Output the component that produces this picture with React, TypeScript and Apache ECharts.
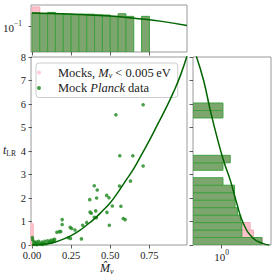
import React, { useEffect, useRef } from 'react';
import * as echarts from 'echarts';

// ---------- data ----------
const planckPoints: [number, number][] = [
  [0.003, 0.32], [0.005, 0.22], [0.012, 0.14], [0.02, 0.08], [0.028, 0.12], [0.035, 0.05],
  [0.043, 0.16], [0.05, 0.06], [0.058, 0.03], [0.064, 0.12], [0.072, 0.07], [0.082, 0.16],
  [0.09, 0.05], [0.1, 0.18], [0.108, 0.1], [0.115, 0.14], [0.12, 0.2], [0.128, 0.12],
  [0.135, 0.22], [0.14, 0.16], [0.145, 0.24], [0.01, 0.02], [0.03, 0.01], [0.07, 0.02],
  [0.159, 0.54], [0.174, 0.57], [0.184, 0.57], [0.193, 1.08], [0.193, 0.87], [0.233, 0.31],
  [0.246, 0.28], [0.244, 0.75], [0.254, 0.7], [0.275, 0.64], [0.316, 0.26], [0.324, 0.84],
  [0.35, 0.96], [0.369, 1.93], [0.371, 1.4], [0.379, 1.35], [0.398, 2.52], [0.398, 1.18],
  [0.407, 1.45], [0.411, 1.16], [0.413, 2.0], [0.417, 2.34], [0.477, 2.11], [0.479, 1.39],
  [0.492, 2.01], [0.494, 0.84], [0.513, 1.66], [0.559, 2.51], [0.568, 1.65], [0.583, 1.13],
  [0.595, 1.08], [0.629, 2.72], [0.536, 5.54], [0.561, 3.8], [0.644, 3.8], [0.71, 5.97],
  [0.71, 3.36],
];
const mockPoints: [number, number][] = [
  [0.0, 0.01], [0.002, 0.04], [0.001, 0.07], [0.003, 0.1], [0.0, 0.13], [0.002, 0.16],
  [0.001, 0.19], [0.003, 0.22], [0.0, 0.25], [0.002, 0.28], [0.001, 0.31], [0.003, 0.34],
  [0.0, 0.37], [0.002, 0.4], [0.001, 0.43], [0.003, 0.46], [0.0, 0.49], [0.002, 0.52],
  [0.001, 0.55], [0.003, 0.58], [0.0, 0.61], [0.002, 0.64], [0.001, 0.67], [0.003, 0.7],
  [0.0, 0.73], [0.002, 0.76], [0.001, 0.79], [0.003, 0.82], [0.0, 0.85], [0.002, 0.88],
];
const fitCurve: [number, number][] = [
  [0.0, 0.0], [0.05, 0.01], [0.1, 0.05], [0.15, 0.13], [0.2, 0.25], [0.25, 0.4], [0.3, 0.6],
  [0.35, 0.85], [0.4, 1.12], [0.45, 1.45], [0.5, 1.8], [0.55, 2.25], [0.6, 2.75], [0.65, 3.25],
  [0.7, 3.85], [0.75, 4.45], [0.8, 5.1], [0.85, 5.75], [0.9, 6.45], [0.95, 7.25], [0.99, 8.05],
];
const mainXTicks = [0, 0.25, 0.5, 0.75];

// top histogram (M_nu), log scale
const topBinEdges = [0, 0.05, 0.1, 0.15, 0.2, 0.25, 0.3, 0.35, 0.4, 0.45, 0.5, 0.55, 0.6, 0.65, 0.7, 0.75];
const topGreen = [0.189, 0.183, 0.195, 0.183, 0.175, 0.173, 0.179, 0.179, 0.174, 0.172, 0.161, 0.183, 0.161, 0, 0.161];
const topPink = [0.254, 0, 0, 0, 0, 0, 0, 0, 0, 0, 0, 0, 0, 0, 0];
const topCurve: [number, number][] = [
  [0.0, 0.189], [0.25, 0.18], [0.5, 0.164], [0.68, 0.144], [0.83, 0.126], [0.99, 0.103],
];

// right histogram (t_LR), log scale
const rightBinEdges = [0, 0.318, 0.636, 0.954, 1.272, 1.59, 1.908, 2.226, 2.544, 2.862, 3.18,
  3.498, 3.816, 4.134, 4.452, 4.77, 5.088, 5.406, 5.724, 6.042];
const rightGreen = [4.68, 2.17, 2.17, 2.09, 1.83, 1.68, 1.64, 1.64, 1.05, 0, 1.05, 1.39, 0, 0, 0, 0, 0, 1.05, 1.05];
const rightPink = [4.79, 3.39, 2.99, 0, 0, 0, 0, 0, 0, 0, 0, 0, 0, 0, 0, 0, 0, 0, 0];
const rightCurve: [number, number][] = [
  [0.376, 8.03], [0.497, 7.01], [0.643, 5.74], [0.832, 4.6], [1.07, 3.61], [1.39, 2.76],
  [1.79, 1.77], [2.31, 0.91], [3.39, 0.28], [4.97, 0.06], [6.3, 0.0],
];

const TOP_MIN = 0.0283;
const TOP_MAX = 0.28;
const RIGHT_MIN = 0.331;
const RIGHT_MAX = 6.68;

const FONT = 'Liberation Serif';
const DOT = '#1c871c';
const LINE = '#006400';
const BAR_FILL = '#7da66e';
const BAR_EDGE = '#40a040';
const PINK = '#ffc0cb';
const PINK_EDGE = '#f3a9b6';
const FRAME = '#9a9a9a';
const TICK = '#333';

function histItems(edges: number[], vals: number[]) {
  const out: number[][] = [];
  vals.forEach((v, i) => {
    if (v > 0) out.push([edges[i], edges[i + 1], v]);
  });
  return out;
}

const supRich = {
  b: { fontSize: 11, fontFamily: FONT, color: '#222', lineHeight: 14, verticalAlign: 'bottom' },
  s: { fontSize: 7.5, fontFamily: FONT, color: '#222', lineHeight: 14, verticalAlign: 'top' },
};

export default function App() {
  const ref = useRef<HTMLDivElement>(null);
  useEffect(() => {
    if (!ref.current) return;
    const chart = echarts.init(ref.current, null, { renderer: 'svg' });
    const tickStyle = { length: 3.5, lineStyle: { color: TICK, width: 0.8 } };
    const option: any = {
      animation: false,
      textStyle: { fontFamily: FONT },
      grid: [
        { left: 31, top: 57, width: 156, height: 188, show: true, borderColor: FRAME, borderWidth: 1 },
        { left: 31, top: 5, width: 156, height: 47, show: true, borderColor: FRAME, borderWidth: 1 },
        { left: 193, top: 57, width: 78, height: 188, show: true, borderColor: FRAME, borderWidth: 1 },
      ],
      xAxis: [
        {
          gridIndex: 0, type: 'value', min: -0.006, max: 0.99,
          axisLine: { show: false }, splitLine: { show: false },
          axisTick: { ...tickStyle, customValues: mainXTicks },
          axisLabel: {
            customValues: mainXTicks, margin: 5, fontSize: 10.5, color: '#222', fontFamily: FONT,
            formatter: (v: number) => v.toFixed(2),
          },
        },
        {
          gridIndex: 1, type: 'value', min: -0.006, max: 0.99,
          axisLine: { show: false }, splitLine: { show: false },
          axisTick: { ...tickStyle, customValues: mainXTicks },
          axisLabel: { show: false },
        },
        {
          gridIndex: 2, type: 'log', min: RIGHT_MIN, max: RIGHT_MAX,
          axisLine: { show: false }, splitLine: { show: false }, minorTick: { show: false },
          axisTick: { ...tickStyle, customValues: [1] },
          axisLabel: { customValues: [1], margin: 3, formatter: () => '{b|10}{s|0}', rich: supRich },
        },
      ],
      yAxis: [
        {
          gridIndex: 0, type: 'value', min: 0, max: 8, interval: 1,
          axisLine: { show: false }, splitLine: { show: false },
          axisTick: { show: true, ...tickStyle },
          axisLabel: { margin: 5, fontSize: 10.5, color: '#222', fontFamily: FONT },
        },
        {
          gridIndex: 1, type: 'log', min: TOP_MIN, max: TOP_MAX,
          axisLine: { show: false }, splitLine: { show: false }, minorTick: { show: false },
          axisTick: { show: true, ...tickStyle, customValues: [0.1] },
          axisLabel: { customValues: [0.1], margin: 9, formatter: () => '{b|10}{s|\u22121}', rich: supRich },
        },
        {
          gridIndex: 2, type: 'value', min: 0, max: 8, interval: 1,
          axisLine: { show: false }, splitLine: { show: false },
          axisTick: { show: true, ...tickStyle },
          axisLabel: { show: false },
        },
      ],
      legend: {
        left: 36, top: 63, orient: 'vertical',
        backgroundColor: 'rgba(255,255,255,0.8)', borderColor: '#cccccc', borderWidth: 1, borderRadius: 3,
        padding: [3, 7, 3, 1], itemGap: 2, itemWidth: 28, itemHeight: 4, icon: 'circle',
        data: ['mocks', 'planck'],
        textStyle: {
          fontFamily: FONT, fontSize: 12, color: '#222',
          rich: {
            i: { fontFamily: FONT, fontStyle: 'italic', fontSize: 12.5, color: '#222', lineHeight: 14 },
            n: { fontFamily: FONT, fontSize: 12.5, color: '#222', lineHeight: 14 },
            sub: { fontFamily: FONT, fontStyle: 'italic', fontSize: 8, color: '#222', lineHeight: 14, verticalAlign: 'bottom' },
          },
        },
        formatter: (name: string) =>
          name === 'mocks'
            ? '{n|Mocks, }{i|M}{sub|\u03bd}{n| < 0.005\u2009eV}'
            : '{n|Mock }{i|Planck}{n| data}',
      },
      series: [
        {
          name: 'mocks', type: 'scatter', xAxisIndex: 0, yAxisIndex: 0, data: mockPoints,
          symbolSize: 3.5, itemStyle: { color: PINK }, z: 3,
        },
        {
          name: 'planck', type: 'scatter', xAxisIndex: 0, yAxisIndex: 0, data: planckPoints,
          symbolSize: 3.6, itemStyle: { color: DOT }, z: 4,
        },
        {
          name: 'fit', type: 'line', xAxisIndex: 0, yAxisIndex: 0, data: fitCurve, smooth: true,
          showSymbol: false, lineStyle: { color: LINE, width: 1.5 }, clip: true, z: 5,
        },
        ...[
          { vals: topPink, fill: PINK, edge: PINK_EDGE, z: 2 },
          { vals: topGreen, fill: BAR_FILL, edge: BAR_EDGE, z: 3 },
        ].map((h) => ({
          type: 'custom', xAxisIndex: 1, yAxisIndex: 1, clip: true, z: h.z,
          encode: { x: [0, 1], y: 2 },
          data: histItems(topBinEdges, h.vals),
          renderItem: (_p: any, api: any) => {
            const a = api.coord([api.value(0), api.value(2)]);
            const b = api.coord([api.value(1), TOP_MIN]);
            return {
              type: 'rect',
              shape: { x: a[0], y: a[1], width: b[0] - a[0], height: b[1] - a[1] },
              style: { fill: h.fill, stroke: h.edge, lineWidth: 1 },
            };
          },
        })),
        {
          type: 'line', xAxisIndex: 1, yAxisIndex: 1, data: topCurve, smooth: true, showSymbol: false,
          lineStyle: { color: LINE, width: 1.5 }, z: 6,
        },
        ...[
          { vals: rightPink, fill: PINK, edge: PINK_EDGE, z: 2 },
          { vals: rightGreen, fill: BAR_FILL, edge: BAR_EDGE, z: 3 },
        ].map((h) => ({
          type: 'custom', xAxisIndex: 2, yAxisIndex: 2, clip: true, z: h.z,
          encode: { x: 2, y: [0, 1] },
          data: histItems(rightBinEdges, h.vals),
          renderItem: (_p: any, api: any) => {
            const a = api.coord([RIGHT_MIN, api.value(1)]);
            const b = api.coord([api.value(2), api.value(0)]);
            return {
              type: 'rect',
              shape: { x: a[0], y: a[1], width: b[0] - a[0], height: b[1] - a[1] },
              style: { fill: h.fill, stroke: h.edge, lineWidth: 1 },
            };
          },
        })),
        {
          type: 'line', xAxisIndex: 2, yAxisIndex: 2, data: rightCurve, smooth: true, showSymbol: false,
          lineStyle: { color: LINE, width: 1.5 }, clip: true, z: 6,
        },
      ],
      graphic: [
        {
          type: 'text', left: 3, top: 144,
          style: {
            text: '{t|t}{s|LR}',
            rich: {
              t: { fontFamily: FONT, fontStyle: 'italic', fontSize: 12, fill: '#222', lineHeight: 15 },
              s: { fontFamily: FONT, fontSize: 7.5, fill: '#222', lineHeight: 15, verticalAlign: 'bottom' },
            },
          },
        },
        {
          type: 'text', left: 100, top: 262,
          style: {
            text: '{m|M\u0302}{s|\u03bd}',
            rich: {
              m: { fontFamily: FONT, fontStyle: 'italic', fontSize: 12, fill: '#222', lineHeight: 15 },
              s: { fontFamily: FONT, fontStyle: 'italic', fontSize: 8, fill: '#222', lineHeight: 15, verticalAlign: 'bottom' },
            },
          },
        },
      ],
    };
    chart.setOption(option);
    return () => chart.dispose();
  }, []);
  return <div ref={ref} style={{ width: 276, height: 280, position: 'absolute', left: 0, top: 0 }} />;
}
